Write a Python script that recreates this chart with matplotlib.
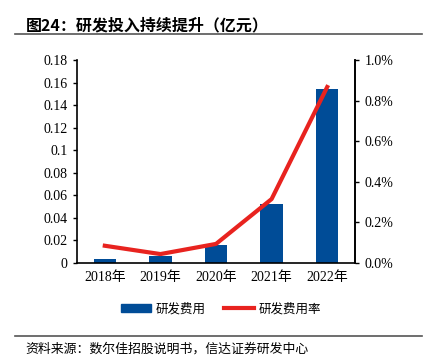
import matplotlib
matplotlib.use("Agg")
import matplotlib.pyplot as plt
from matplotlib.lines import Line2D

plt.rcParams['font.family'] = ['Liberation Serif', 'Noto Sans CJK SC']

years = ['2018年', '2019年', '2020年', '2021年', '2022年']
rd_expense = [0.0035, 0.0065, 0.0157, 0.0523, 0.154]
rd_ratio = [0.085, 0.044, 0.094, 0.315, 0.867]  # percent
left_ticks = [0, 0.02, 0.04, 0.06, 0.08, 0.1, 0.12, 0.14, 0.16, 0.18]
left_labels = ['0', '0.02', '0.04', '0.06', '0.08', '0.1', '0.12', '0.14', '0.16', '0.18']
right_ticks = [0, 0.2, 0.4, 0.6, 0.8, 1.0]
right_labels = ['0.0%', '0.2%', '0.4%', '0.6%', '0.8%', '1.0%']

W, H = 429, 362
fig = plt.figure(figsize=(W/100, H/100), dpi=100)
ax = fig.add_axes([77/W, 1-263/H, (355-77)/W, (263-60)/H])
x = list(range(len(years)))
bars = ax.bar(x, rd_expense, width=0.4, color='#004C97')
ax.set_xlim(-0.5, 4.5)
ax.set_ylim(0, 0.18)
ax.set_yticks(left_ticks)
ax.set_yticklabels(left_labels, fontsize=10)
ax.set_xticks(x)
ax.set_xticklabels(years, fontsize=10)
ax.tick_params(axis='x', length=0, pad=6)
ax.tick_params(axis='y', direction='out', length=3, width=1, pad=4)
for s in ['top']:
    ax.spines[s].set_visible(False)
for s in ['left', 'right', 'bottom']:
    ax.spines[s].set_linewidth(1.2)

ax2 = ax.twinx()
ax2.plot(x, rd_ratio, color='#E8231F', linewidth=3)
ax2.set_ylim(0, 1.0)
ax2.set_yticks(right_ticks)
ax2.set_yticklabels(right_labels, fontsize=10)
ax2.tick_params(axis='y', direction='out', length=3, width=1, pad=4)
ax2.spines['top'].set_visible(False)
ax2.spines['right'].set_linewidth(1.2)
ax2.spines['left'].set_visible(False)
ax2.spines['bottom'].set_visible(False)

handles = [plt.Rectangle((0, 0), 1, 1, color='#004C97'),
           Line2D([0], [0], color='#E8231F', linewidth=3)]
fig.legend(handles, ['研发费用', '研发费用率'], loc='center', bbox_to_anchor=(221/W, 1-309/H),
           ncol=2, frameon=False, fontsize=9, handlelength=2.4, handleheight=0.55,
           columnspacing=1.5, handletextpad=0.35)

fig.text(26/W, 1-25/H, '图24：研发投入持续提升（亿元）', fontsize=11.5, fontweight='bold',
         ha='left', va='center', family=['Noto Sans CJK SC'])
fig.add_artist(Line2D([15/W, 422/W], [1-34/H, 1-34/H], color='#555555', linewidth=1.2))
fig.add_artist(Line2D([15/W, 422/W], [1-336/H, 1-336/H], color='#555555', linewidth=1.2))
fig.text(25/W, 1-349/H, '资料来源：数尔佳招股说明书，信达证券研发中心', fontsize=9.3, style='italic',
         ha='left', va='center', family=['Noto Sans CJK SC'])

fig.savefig('out.png', dpi=100)
